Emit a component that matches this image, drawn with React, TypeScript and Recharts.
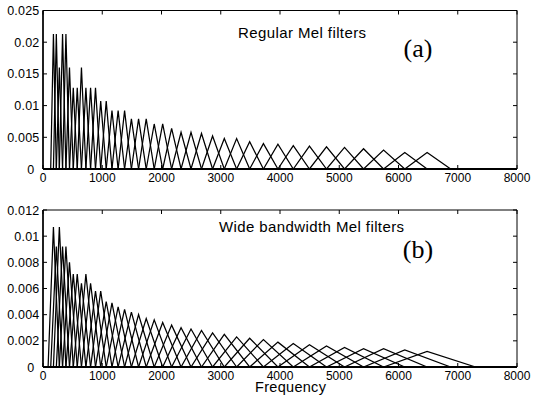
import React from 'react';
import { LineChart, Line, XAxis, YAxis, ReferenceArea } from 'recharts';

// Filter edge frequencies (Hz) (mel-spaced edges)
const melEdges = [
  86, 130, 176, 225, 276, 330, 387, 447, 511, 578, 649, 724, 803, 886, 974,
  1067, 1164, 1268, 1377, 1492, 1613, 1742, 1877, 2020, 2171, 2330, 2498,
  2675, 2862, 3060, 3268, 3488, 3720, 3965, 4224, 4497, 4785, 5089, 5410,
  5748, 6106, 6483, 6881, 7301,
];

// Peak heights of the 40 regular filters (panel a)
const regularHeights = [
  0.0213, 0.0213, 0.016, 0.0213, 0.0213, 0.016, 0.0128, 0.0128, 0.016, 0.0128,
  0.0128, 0.0128, 0.0107, 0.0107, 0.0092, 0.0092, 0.0092, 0.0079, 0.0079, 0.0079,
  0.0071, 0.0071, 0.0064, 0.0058, 0.0058, 0.0056, 0.0052, 0.0048, 0.0048, 0.0043,
  0.004, 0.0039, 0.0037, 0.0036, 0.0035, 0.0034, 0.0032, 0.003, 0.0026, 0.0026,
];

// Peak heights of the 40 wide-bandwidth filters (panel b)
const wideHeights = [
  0.0107, 0.0092, 0.0107, 0.0092, 0.0092, 0.008, 0.0071, 0.0071, 0.0064, 0.0071,
  0.0064, 0.0058, 0.0058, 0.005, 0.0049, 0.0046, 0.0044, 0.0042, 0.004, 0.0037,
  0.0036, 0.0034, 0.0032, 0.003, 0.0029, 0.0028, 0.0026, 0.0025, 0.0023, 0.0022,
  0.0021, 0.0019, 0.0018, 0.0017, 0.0016, 0.0015, 0.0014, 0.0014, 0.0013, 0.0012,
];

const xTicks = [0, 1000, 2000, 3000, 4000, 5000, 6000, 7000, 8000];
const yTicksA = [0, 0.005, 0.01, 0.015, 0.02, 0.025];
const yTicksB = [0, 0.002, 0.004, 0.006, 0.008, 0.01, 0.012];

const SANS = '"Liberation Sans", Arial, Helvetica, sans-serif';
const SERIF = '"Liberation Serif", "Times New Roman", serif';

function buildFilters(heights: number[], spread: number) {
  return heights.map((h, i) => {
    const c = i + 2; // index of centre edge
    return [
      { f: melEdges[c - spread], v: 0 },
      { f: melEdges[c], v: h },
      { f: melEdges[c + spread], v: 0 },
    ];
  });
}

const W = 535;
const PLOT_W = 474;

function makeXTick(plotH: number) {
  return (props: any) => {
    const { x, y, payload } = props;
    return (
      <g>
        <line x1={x} y1={y} x2={x} y2={y - 4} stroke="#000" strokeWidth={1} />
        <line x1={x} y1={y - plotH} x2={x} y2={y - plotH + 4} stroke="#000" strokeWidth={1} />
        <text x={x} y={y + 13} textAnchor="middle" fontSize={12} fontFamily={SANS} fill="#000">
          {payload.value}
        </text>
      </g>
    );
  };
}

function makeYTick() {
  return (props: any) => {
    const { x, y, payload } = props;
    const v = payload.value;
    return (
      <g>
        <line x1={x} y1={y} x2={x + 4} y2={y} stroke="#000" strokeWidth={1} />
        <line x1={x + PLOT_W} y1={y} x2={x + PLOT_W - 4} y2={y} stroke="#000" strokeWidth={1} />
        <text
          x={v === 0 ? x - 8.5 : x - 3.5}
          y={y + 4.5}
          textAnchor="end"
          fontSize={12.5}
          letterSpacing={0.2}
          fontFamily={SANS}
          fill="#000"
        >
          {String(v)}
        </text>
      </g>
    );
  };
}

function Panel(props: {
  top: number;
  height: number;
  marginTop: number;
  xAxisHeight: number;
  yMax: number;
  yTicks: number[];
  filters: { f: number; v: number }[][];
}) {
  const { top, height, marginTop, xAxisHeight, yMax, yTicks, filters } = props;
  const plotH = height - marginTop - xAxisHeight;
  return (
    <div style={{ position: 'absolute', left: 0, top, width: W, height }}>
      <LineChart
        width={W}
        height={height}
        margin={{ top: marginTop, right: 18, bottom: 0, left: 0 }}
      >
        <XAxis
          type="number"
          dataKey="f"
          domain={[0, 8000]}
          ticks={xTicks}
          interval={0}
          allowDataOverflow
          height={xAxisHeight}
          tickSize={0}
          tickMargin={0}
          tickLine={false}
          axisLine={{ stroke: '#000', strokeWidth: 2 }}
          tick={makeXTick(plotH)}
        />
        <YAxis
          type="number"
          dataKey="v"
          domain={[0, yMax]}
          ticks={yTicks}
          interval={0}
          allowDataOverflow
          width={43}
          tickSize={0}
          tickMargin={0}
          tickLine={false}
          axisLine={{ stroke: '#000', strokeWidth: 1.5 }}
          tick={makeYTick()}
        />
        <ReferenceArea
          x1={0}
          x2={8000}
          y1={0}
          y2={yMax}
          fill="none"
          fillOpacity={0}
          stroke="#000"
          strokeWidth={1}
          ifOverflow="visible"
        />
        {filters.map((d, i) => (
          <Line
            key={i}
            data={d}
            dataKey="v"
            type="linear"
            stroke="#000"
            strokeWidth={1.25}
            dot={false}
            activeDot={false}
            isAnimationActive={false}
          />
        ))}
      </LineChart>
    </div>
  );
}

export default function App() {
  const filtersA = buildFilters(regularHeights, 1);
  const filtersB = buildFilters(wideHeights, 2);
  return (
    <div
      style={{
        position: 'absolute',
        left: 0,
        top: 0,
        width: W,
        height: 397,
        background: '#fff',
        overflow: 'hidden',
      }}
    >
      <Panel top={0} height={195} marginTop={10.5} xAxisHeight={26} yMax={0.025} yTicks={yTicksA} filters={filtersA} />
      <Panel top={195} height={202} marginTop={15} xAxisHeight={30} yMax={0.012} yTicks={yTicksB} filters={filtersB} />
      <svg
        width={W}
        height={397}
        style={{ position: 'absolute', left: 0, top: 0, pointerEvents: 'none' }}
      >
        <text x={238} y={38} fontSize={15} letterSpacing={0.4} fontFamily={SANS} fill="#000">
          Regular Mel filters
        </text>
        <text x={418} y={57} textAnchor="middle" fontSize={26} fontFamily={SERIF} fill="#000">
          (a)
        </text>
        <text x={219} y={232} fontSize={15} letterSpacing={0.4} fontFamily={SANS} fill="#000">
          Wide bandwidth Mel filters
        </text>
        <text x={418} y={258} textAnchor="middle" fontSize={26} fontFamily={SERIF} fill="#000">
          (b)
        </text>
        <text x={255} y={392} fontSize={14.5} letterSpacing={0.3} fontFamily={SANS} fill="#000">
          Frequency
        </text>
      </svg>
    </div>
  );
}
